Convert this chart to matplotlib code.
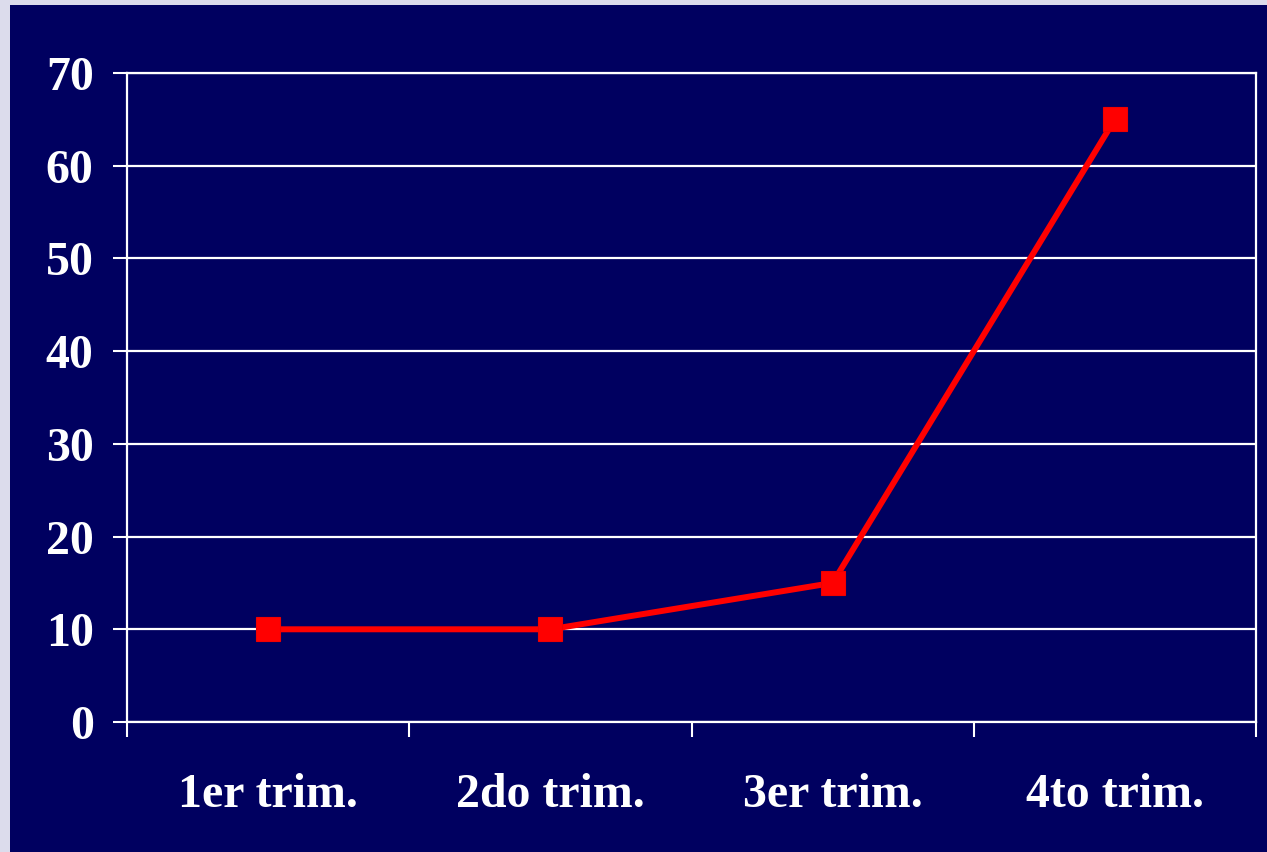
import matplotlib
matplotlib.use("Agg")
import matplotlib.pyplot as plt
from matplotlib.patches import Rectangle

# Quarterly values
categories = ["1er trim.", "2do trim.", "3er trim.", "4to trim."]
values = [10, 10, 15, 65]
y_ticks = [0, 10, 20, 30, 40, 50, 60, 70]

NAVY = "#000060"
LAVENDER = "#DCDCEC"
W, H = 1267, 852

fig = plt.figure(figsize=(W / 100, H / 100), dpi=100, facecolor=LAVENDER)
fig.patches.append(Rectangle((10 / W, 0), 1 - 10 / W, 1 - 5 / H,
                             transform=fig.transFigure, facecolor=NAVY,
                             edgecolor="none", zorder=-10))

ax = fig.add_axes([127 / W, 1 - 722 / H, (1256 - 127) / W, (722 - 73) / H])
ax.set_facecolor(NAVY)

x = [i + 0.5 for i in range(len(categories))]
ax.plot(x, values, color="#FF0000", linewidth=4.3, marker="s",
        markersize=17, markerfacecolor="#FF0000", markeredgecolor="#F00000",
        markeredgewidth=0.8, zorder=5, clip_on=False)

ax.set_xlim(0, len(categories))
ax.set_ylim(0, 70)

font = dict(family="Liberation Serif", weight="bold", size=34.5, color="white")

ax.set_yticks(y_ticks)
ax.set_yticklabels([str(v) for v in y_ticks], **font)
ax.yaxis.grid(True, color="white", linewidth=1.6)
ax.set_axisbelow(True)

ax.set_xticks(range(len(categories) + 1))
ax.set_xticklabels([])
ax.set_xticks(x, minor=True)
ax.set_xticklabels(categories, minor=True, **font)
ax.tick_params(axis="x", which="major", direction="out", length=11,
               width=1.5, color="white")
ax.tick_params(axis="x", which="minor", length=0, pad=37)
ax.tick_params(axis="y", direction="out", length=10, width=1.5,
               color="white", pad=14)

for side in ["left", "right", "bottom", "top"]:
    ax.spines[side].set_color("white")
    ax.spines[side].set_linewidth(1.6)

fig.savefig("out.png", dpi=100, facecolor=LAVENDER)
